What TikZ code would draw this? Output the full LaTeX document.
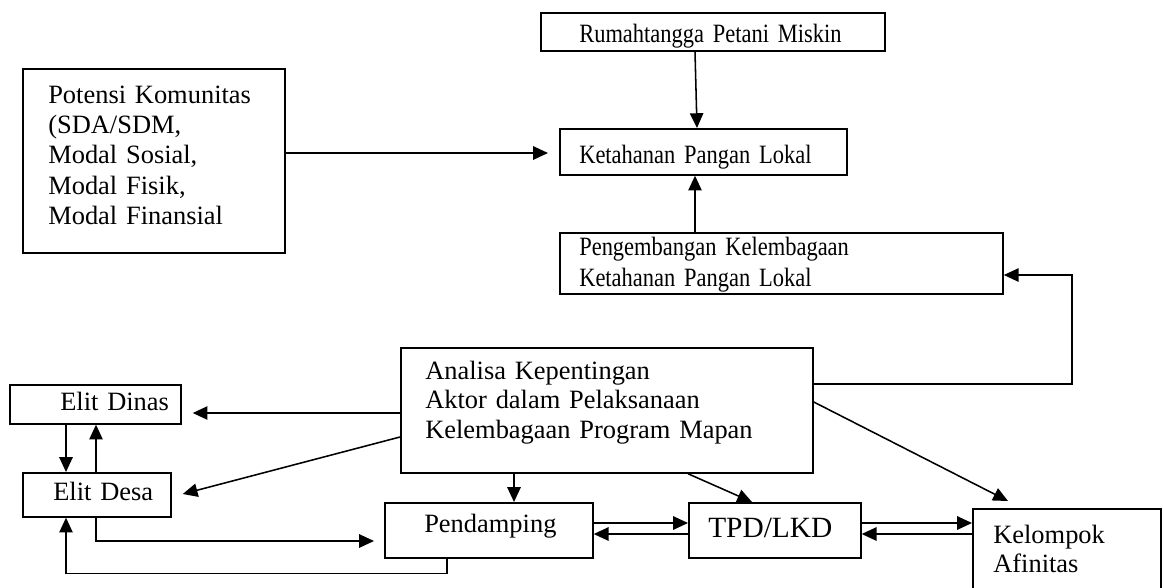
\documentclass[tikz,border=0pt]{standalone}
\usepackage{fontspec}
\setmainfont{Liberation Serif}
\newfontfamily\sempit[FakeStretch=0.85]{Liberation Serif}
\usepackage{tikz}
\usetikzlibrary{arrows.meta}

\begin{document}
\begin{tikzpicture}[x=0.025cm,y=-0.025cm,
    kotak/.style={draw,line width=1.2pt,anchor=north west,inner sep=0pt},
    teks/.style={anchor=base west,inner sep=0pt,align=left,text width=12cm,
                 font=\fontsize{18.8}{21.3}\selectfont},
    teksatas/.style={teks,font=\sempit\fontsize{18.8}{22.75}\selectfont},
    panah/.style={-{Triangle[length=10.5pt,width=9.5pt]},line width=1.1pt}]

  \useasboundingbox (0,0) rectangle (1164,587);
  \clip (0,0) rectangle (1164,587);

  % kotak
  \node[kotak,minimum width=8.6cm,minimum height=0.95cm]     (rt)   at (540,12)  {};
  \node[kotak,minimum width=7.175cm,minimum height=1.15cm]   (kpl)  at (559,128) {};
  \node[kotak,minimum width=11.075cm,minimum height=1.525cm] (pkpl) at (559,232) {};
  \node[kotak,minimum width=6.55cm,minimum height=4.6cm]     (pk)   at (22,68)   {};
  \node[kotak,minimum width=10.3cm,minimum height=3.125cm]   (ana)  at (400,347) {};
  \node[kotak,minimum width=4.275cm,minimum height=0.975cm]  (ed)   at (9,384)   {};
  \node[kotak,minimum width=3.7cm,minimum height=1.1cm]      (eds)  at (22,472)  {};
  \node[kotak,minimum width=5.2cm,minimum height=1.375cm]    (pd)   at (384,502) {};
  \node[kotak,minimum width=4.3cm,minimum height=1.375cm]    (tpd)  at (688,502) {};
  \node[kotak,minimum width=4.7cm,minimum height=2.5cm]      (ka)   at (972,508) {};

  % teks
  \node[teksatas] (rt-t)   at ([shift={(39,30)}]rt.north west)   {Rumahtangga Petani Miskin};
  \node[teksatas] (kpl-t)  at ([shift={(20,35)}]kpl.north west)  {Ketahanan Pangan Lokal};
  \node[teksatas] (pkpl-t) at ([shift={(20,23)}]pkpl.north west) {Pengembangan Kelembagaan\\Ketahanan Pangan Lokal};
  \node[teks,font=\fontsize{18.8}{21.6}\selectfont] (pk-t) at ([shift={(26,35)}]pk.north west)
        {Potensi Komunitas\\(SDA/SDM,\\Modal Sosial,\\Modal Fisik,\\Modal Finansial};
  \node[teks] (ana-t) at ([shift={(25,32)}]ana.north west)
        {Analisa Kepentingan\\Aktor dalam Pelaksanaan\\Kelembagaan Program Mapan};
  \node[teks] (ed-t)   at ([shift={(51,26)}]ed.north west)  {Elit Dinas};
  \node[teks] (eds-t)  at ([shift={(31,28)}]eds.north west) {Elit Desa};
  \node[teks] (pd-t)   at ([shift={(40,30)}]pd.north west)  {Pendamping};
  \node[teks,font=\fontsize{20.9}{24}\selectfont] (tpd-t) at ([shift={(20,35)}]tpd.north west) {TPD/LKD};
  \node[teks] (ka-t)   at ([shift={(21,35)}]ka.north west)  {Kelompok\\Afinitas};

  % panah
  \draw[panah] ([shift={(155,0)}]rt.south west) -- ([shift={(138,0)}]kpl.north west);
  \draw[panah] ([shift={(136,0)}]pkpl.north west) -- ([shift={(136,0)}]kpl.south west);
  \draw[panah] ([shift={(0,85)}]pk.north east) -- ([shift={(-11,25)}]kpl.north west);
  \draw[panah] ([shift={(0,37)}]ana.north east) -| ([shift={(68,43)}]pkpl.north east)
                                                -- ([shift={(0,43)}]pkpl.north east);
  \draw[panah] ([shift={(0,66)}]ana.north west) -- ([shift={(11,29)}]ed.north east);
  \draw[panah] ([shift={(0,90)}]ana.north west) -- ([shift={(11,22)}]eds.north east);
  \draw[panah] ([shift={(57,0)}]ed.south west) -- ([shift={(44,0)}]eds.north west);
  \draw[panah] ([shift={(74,0)}]eds.north west) -- ([shift={(87,0)}]ed.south west);
  \draw[panah] ([shift={(74,0)}]eds.south west) |- ([shift={(-10,39)}]pd.north west);
  \draw[panah] ([shift={(63,0)}]pd.south west) -- ++(0,15) -| ([shift={(44,0)}]eds.south west);
  \draw[panah] ([shift={(114,0)}]ana.south west) -- ([shift={(130,0)}]pd.north west);
  \draw[panah] ([shift={(288,0)}]ana.south west) -- ([shift={(64,0)}]tpd.north west);
  \draw[panah] ([shift={(0,55)}]ana.north east) -- ([shift={(36,-7)}]ka.north west);
  \draw[panah] ([shift={(0,21)}]pd.north east) -- ([shift={(0,21)}]tpd.north west);
  \draw[panah] ([shift={(0,32)}]tpd.north west) -- ([shift={(0,32)}]pd.north east);
  \draw[panah] ([shift={(0,21)}]tpd.north east) -- ([shift={(0,15)}]ka.north west);
  \draw[panah] ([shift={(0,26)}]ka.north west) -- ([shift={(0,32)}]tpd.north east);
\end{tikzpicture}
\end{document}
